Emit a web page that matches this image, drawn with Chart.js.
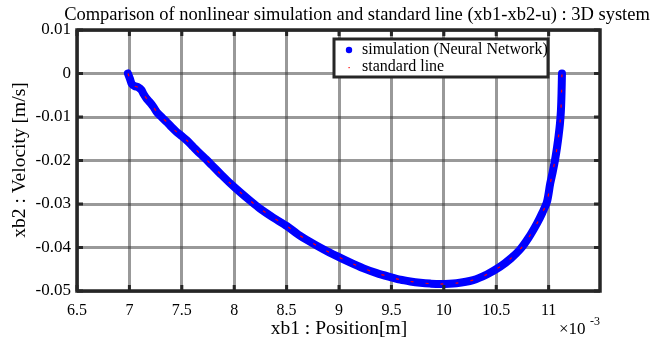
<!DOCTYPE html>
<html>
<head>
<meta charset="utf-8">
<script src="https://cdn.jsdelivr.net/npm/chart.js@4.4.0/dist/chart.umd.min.js"></script>
<style>
  html, body { margin: 0; padding: 0; background: #fff; }
  #wrap { width: 661px; height: 344px; }
</style>
</head>
<body>
<div id="wrap"><canvas id="myChart" width="661" height="344"></canvas></div>
<script>
// xb1 in units of 1e-3 m, xb2 in m/s
var xb1 = [6.986, 7.005, 7.024, 7.05, 7.087, 7.115, 7.135, 7.165, 7.198, 7.23, 7.262, 7.31, 7.358, 7.405, 7.453,
           7.5, 7.549, 7.61, 7.676, 7.73, 7.787, 7.866, 7.96, 8.057, 8.15, 8.248, 8.37, 8.503, 8.61, 8.725,
           8.85, 8.98, 9.11, 9.234, 9.36, 9.489, 9.584, 9.68, 9.775, 9.87, 9.965, 10.12, 10.28, 10.41, 10.538,
           10.64, 10.729, 10.81, 10.888, 10.94, 10.984, 11.015, 11.04, 11.063, 11.08, 11.095, 11.108, 11.117, 11.123, 11.127];
var xb2 = [0, -0.0012, -0.00245, -0.0029, -0.0032, -0.0038, -0.0047, -0.0058, -0.0067, -0.0077, -0.0089, -0.0101, -0.0112, -0.0124, -0.0135,
           -0.0144, -0.0154, -0.0169, -0.0185, -0.0197, -0.0211, -0.0230, -0.0252, -0.0273, -0.0292, -0.0311, -0.0331, -0.0351, -0.0370, -0.0387,
           -0.0404, -0.0420, -0.0435, -0.0448, -0.0459, -0.0468, -0.0474, -0.0478, -0.0481, -0.0483, -0.0484, -0.0482, -0.0475, -0.0462, -0.0444,
           -0.0425, -0.0404, -0.0377, -0.0345, -0.0320, -0.0295, -0.0253, -0.0225, -0.0196, -0.0170, -0.0143, -0.0115, -0.0086, -0.0045, 0];
var xTicks = [6.5, 7, 7.5, 8, 8.5, 9, 9.5, 10, 10.5, 11];
var yTicks = [0.01, 0, -0.01, -0.02, -0.03, -0.04, -0.05];
var seriesNames = ['simulation (Neural Network)', 'standard line'];

var serif = "'Liberation Serif', 'Times New Roman', serif";

function pts(xs, ys){
  var out = [];
  for (var i = 0; i < xs.length; i++) out.push({x: xs[i], y: ys[i]});
  return out;
}

var frame = {
  id: 'frame',
  afterDraw: function(chart){
    var c = chart.ctx, a = chart.chartArea;
    var sx = chart.scales.x, sy = chart.scales.y;
    c.save();
    // inner tick marks
    c.strokeStyle = '#262626';
    c.lineWidth = 3;
    c.beginPath();
    xTicks.forEach(function(v){
      var p = sx.getPixelForValue(v);
      c.moveTo(p, a.top); c.lineTo(p, a.top + 6);
      c.moveTo(p, a.bottom); c.lineTo(p, a.bottom - 6);
    });
    yTicks.forEach(function(v){
      var p = sy.getPixelForValue(v);
      c.moveTo(a.left, p); c.lineTo(a.left + 6, p);
      c.moveTo(a.right, p); c.lineTo(a.right - 6, p);
    });
    c.stroke();
    // box
    c.lineWidth = 3.5;
    c.strokeRect(a.left, a.top, a.right - a.left, a.bottom - a.top);

    // legend
    var lx = 334, ly = 39, lw = 214, lh = 38;
    c.fillStyle = '#fff';
    c.fillRect(lx, ly, lw, lh);
    c.lineWidth = 3;
    c.strokeRect(lx, ly, lw, lh);
    c.fillStyle = '#0000ff';
    c.beginPath(); c.arc(349, 50, 3.2, 0, Math.PI * 2); c.fill();
    c.fillStyle = '#ff0000';
    c.fillRect(348.5, 67, 1.2, 1.2);
    c.fillStyle = '#000';
    c.font = '16px ' + serif;
    c.textBaseline = 'middle';
    c.textAlign = 'left';
    c.fillText(seriesNames[0], 362, 50);
    c.fillText(seriesNames[1], 362, 67);

    // title and axis labels
    c.textAlign = 'center';
    c.font = '18.5px ' + serif;
    c.fillText('Comparison of nonlinear simulation and standard line (xb1-xb2-u) : 3D system', 357, 15);
    c.font = '19.5px ' + serif;
    c.fillText('xb1 : Position[m]', 339, 329);
    c.save();
    c.translate(20, 160);
    c.rotate(-Math.PI / 2);
    c.fillText('xb2 : Velocity [m/s]', 0, 0);
    c.restore();
    c.textAlign = 'left';
    c.font = '17px ' + serif;
    c.fillText('\u00d710', 559, 330);
    c.font = '12px ' + serif;
    c.fillText('-3', 590, 322);
    c.restore();
  }
};

var ctx = document.getElementById('myChart');
var myChart = new Chart(ctx, {
  type: 'scatter',
  data: {
    datasets: [
      {
        label: seriesNames[0],
        data: pts(xb1, xb2),
        showLine: true,
        borderColor: '#0000ff',
        backgroundColor: '#0000ff',
        borderWidth: 8,
        borderCapStyle: 'round',
        borderJoinStyle: 'round',
        pointRadius: 0,
        tension: 0.3,
        order: 2
      },
      {
        label: seriesNames[1],
        data: pts(xb1, xb2),
        showLine: true,
        borderColor: '#ff0000',
        backgroundColor: '#ff0000',
        borderWidth: 1.2,
        borderDash: [3, 12],
        pointRadius: 0,
        tension: 0.3,
        order: 1
      }
    ]
  },
  options: {
    responsive: false,
    animation: false,
    layout: { padding: { left: 0, right: 61, top: 30, bottom: 0 } },
    plugins: {
      legend: { display: false },
      title: { display: false },
      tooltip: { enabled: false }
    },
    scales: {
      x: {
        type: 'linear',
        min: 6.5,
        max: 11.49,
        afterFit: function(s){ s.height = 53; },
        afterBuildTicks: function(s){ s.ticks = xTicks.map(function(v){ return {value: v}; }); },
        ticks: {
          font: { family: serif, size: 16 },
          color: '#000',
          padding: 10,
          maxRotation: 0,
          callback: function(v){ return String(+v.toFixed(2)); }
        },
        grid: { color: 'rgba(51,51,51,0.5)', lineWidth: 3, drawTicks: false },
        border: { display: false }
      },
      y: {
        type: 'linear',
        min: -0.05,
        max: 0.01,
        afterFit: function(s){ s.width = 77; },
        afterBuildTicks: function(s){ s.ticks = yTicks.map(function(v){ return {value: v}; }); },
        ticks: {
          font: { family: serif, size: 17 },
          color: '#000',
          padding: 6,
          callback: function(v){ return String(+v.toFixed(2)); }
        },
        grid: { color: 'rgba(51,51,51,0.5)', lineWidth: 3, drawTicks: false },
        border: { display: false }
      }
    }
  },
  plugins: [frame]
});
</script>
</body>
</html>
